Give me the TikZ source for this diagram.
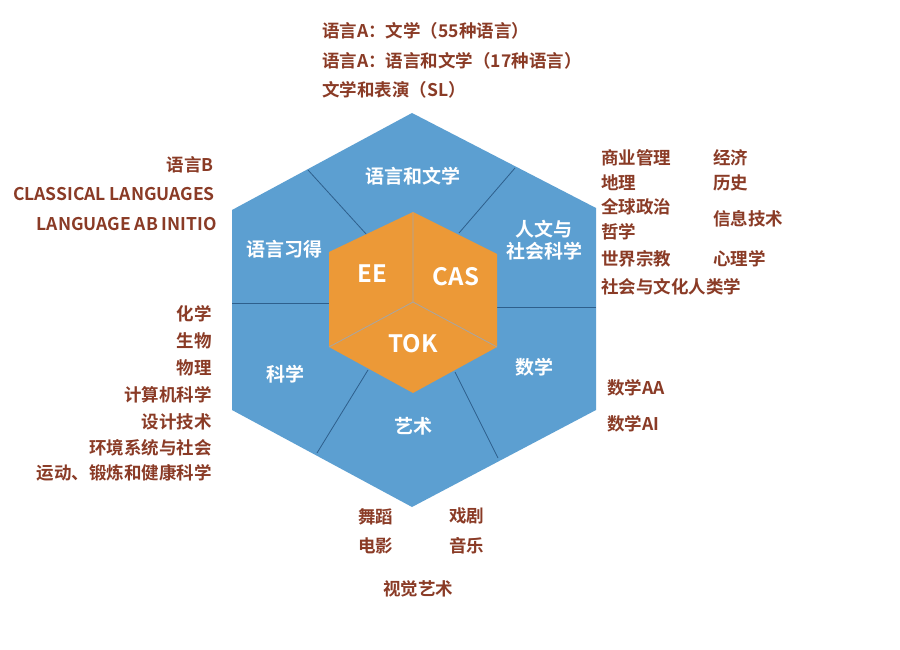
\documentclass[tikz,border=0pt]{standalone}
\usepackage{fontspec}
\setmainfont{Noto Sans CJK SC}[BoldFont={* Bold}]
\newfontfamily\cjkb{Noto Sans CJK SC Bold}
\begin{document}
\begin{tikzpicture}[x=1pt,y=-1pt,
  outtext/.style={font=\cjkb\fontsize{17.5}{17.5}\selectfont,text=brn,inner sep=0pt},
  outl/.style={outtext,anchor=west},
  outr/.style={outtext,anchor=east},
  hl/.style={font=\cjkb\fontsize{19}{22}\selectfont,text=white,align=center,inner sep=0pt},
  cl/.style={font=\cjkb\fontsize{24}{24}\selectfont,text=white,inner sep=0pt},
  div/.style={draw=divc,line width=0.8pt}]
\definecolor{brn}{HTML}{8A3B26}
\definecolor{hexb}{HTML}{5C9FD1}
\definecolor{org}{HTML}{EC9937}
\definecolor{divc}{HTML}{2E5F8C}
\useasboundingbox[fill=white] (0,0) rectangle (900,650);
% outer hexagon
\fill[hexb] (412,113) -- (596,208) -- (596,410) -- (412,507) -- (232,410) -- (232,210) -- cycle;
% dividers
\coordinate (c) at (413,302);
\draw[div] (367,235) -- (308,170);
\draw[div] (459,233) -- (515,168);
\draw[div] (497,307) -- (596,307);
\draw[div] (455,372) -- (498,458);
\draw[div] (368,370) -- (317,453);
\draw[div] (329,303) -- (232,303);
% inner
\fill[org] (413,212) -- (497,254) -- (497,347) -- (413,393) -- (329,347) -- (329,252) -- cycle;
\draw[gray!70,line width=0.8pt] (413,212) -- (c) (329,347) -- (c) -- (497,347);
\node[cl] (ee) at (372,274) {EE};
\node[cl] (cas) at (456,277) {CAS};
\node[cl] (tok) at (413,344) {TOK};
\node[hl] (l1) at (413,176) {语言和文学};
\node[hl] (l2) at (284,249) {语言习得};
\node[hl] (l3) at (544,240) {人文与\\社会科学};
\node[hl] (l4) at (285,374) {科学};
\node[hl] (l5) at (534,367) {数学};
\node[hl] (l6) at (413,426) {艺术};
% top
\node[outl] (t1) at (322,31) {语言A：文学（55种语言）};
\node[outl] (t2) at (322,61) {语言A：语言和文学（17种语言）};
\node[outl] (t3) at (322,90) {文学和表演（SL）};
% left
\node[outr] (a1) at (214,165) {语言B};
\node[outr] (a2) at (215,194) {CLASSICAL LANGUAGES};
\node[outr] (a3) at (217,224) {LANGUAGE AB INITIO};
\node[outr] (s1) at (212,314) {化学};
\node[outr] (s2) at (212,341) {生物};
\node[outr] (s3) at (212,368) {物理};
\node[outr] (s4) at (212,395) {计算机科学};
\node[outr] (s5) at (212,422) {设计技术};
\node[outr] (s6) at (212,448) {环境系统与社会};
\node[outr] (s7) at (212,473) {运动、锻炼和健康科学};
% right
\node[outl] (h1) at (601,158) {商业管理};
\node[outl] (h2) at (601,183) {地理};
\node[outl] (h3) at (601,207) {全球政治};
\node[outl] (h4) at (601,232) {哲学};
\node[outl] (h5) at (601,259) {世界宗教};
\node[outl] (h6) at (601,287) {社会与文化人类学};
\node[outl] (h7) at (713,158) {经济};
\node[outl] (h8) at (713,183) {历史};
\node[outl] (h9) at (713,219) {信息技术};
\node[outl] (h10) at (713,259) {心理学};
\node[outl] (m1) at (607,388) {数学AA};
\node[outl] (m2) at (607,424) {数学AI};
% arts
\node[outl] (r1) at (358,517) {舞蹈};
\node[outl] (r2) at (358,546) {电影};
\node[outl] (r3) at (449,516) {戏剧};
\node[outl] (r4) at (449,546) {音乐};
\node[outl] (r5) at (383,589) {视觉艺术};
\end{tikzpicture}
\end{document}
